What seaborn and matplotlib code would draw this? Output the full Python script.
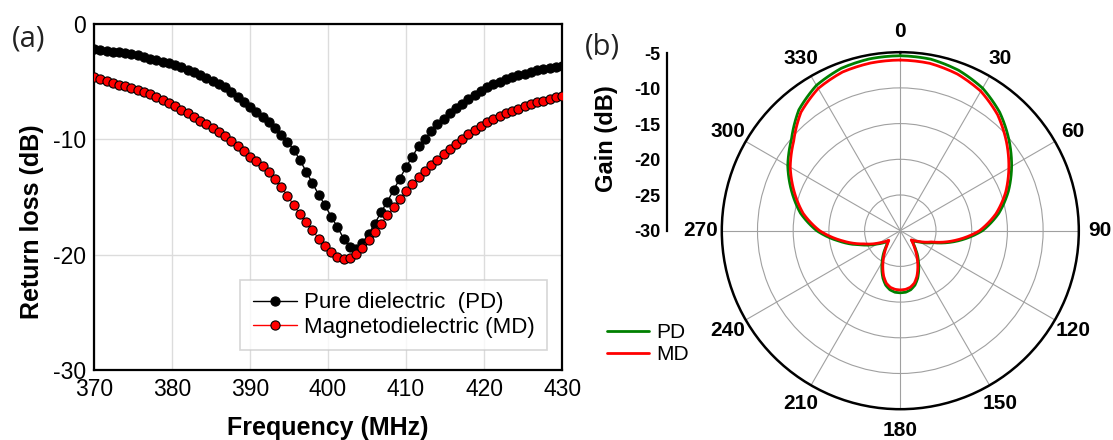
import numpy as np
import matplotlib
matplotlib.use("Agg")
import matplotlib.pyplot as plt
import seaborn as sns
from matplotlib.ticker import MultipleLocator, FixedLocator
from matplotlib.lines import Line2D

# ---------------- (a) return loss sweep, 370-430 MHz ----------------
freq_mhz = np.linspace(370, 430, 76)

return_loss_pd = [
    -2.2, -2.25, -2.3, -2.4, -2.45, -2.5, -2.6, -2.7, -2.85, -3.0,
    -3.1, -3.25, -3.4, -3.55, -3.75, -3.95, -4.15, -4.4, -4.65, -4.9,
    -5.2, -5.5, -5.9, -6.3, -6.75, -7.2, -7.6, -8.05, -8.5, -9.0,
    -9.6, -10.2, -10.9, -11.8, -12.8, -13.8, -14.8, -15.7, -16.7, -17.6,
    -18.6, -19.3, -19.5, -19.0, -18.2, -17.3, -16.3, -15.4, -14.4, -13.4,
    -12.4, -11.5, -10.6, -10.0, -9.3, -8.7, -8.2, -7.7, -7.25, -6.9,
    -6.5, -6.15, -5.85, -5.5, -5.2, -5.0, -4.8, -4.6, -4.45, -4.3,
    -4.15, -4.0, -3.9, -3.8, -3.7, -3.6,
]

return_loss_md = [
    -4.6, -4.75, -4.95, -5.1, -5.25, -5.4, -5.55, -5.7, -5.9, -6.1,
    -6.3, -6.55, -6.85, -7.15, -7.45, -7.75, -8.1, -8.4, -8.7, -9.0,
    -9.35, -9.7, -10.15, -10.6, -11.05, -11.5, -11.9, -12.35, -12.8, -13.4,
    -14.1, -14.9, -15.7, -16.5, -17.2, -17.9, -18.6, -19.25, -19.8, -20.2,
    -20.4, -20.25, -19.9, -19.4, -18.7, -18.0, -17.3, -16.6, -15.9, -15.2,
    -14.5, -13.9, -13.3, -12.7, -12.2, -11.75, -11.3, -10.85, -10.4, -9.95,
    -9.55, -9.2, -8.8, -8.5, -8.2, -7.95, -7.7, -7.5, -7.35, -7.15,
    -6.95, -6.8, -6.65, -6.5, -6.35, -6.2,
]

rl_series_labels = ["Pure dielectric  (PD)", "Magnetodielectric (MD)"]
freq_ticks = [370, 380, 390, 400, 410, 420, 430]
rl_ticks = [-30, -20, -10, 0]

# ---------------- (b) radiation pattern ----------------
pattern_angle_deg = [
    0, 10, 20, 30, 40, 50, 60, 70, 80, 90, 100, 110, 120, 125, 130, 135,
    140, 145, 150, 155, 160, 165, 170, 175, 180, 185, 190, 195, 200, 205,
    210, 215, 220, 225, 230, 235, 240, 250, 260, 270, 280, 290, 300, 310,
    320, 330, 340, 350,
]

gain_pd = [
    -5.5, -5.6, -6.1, -6.95, -8.35, -10.15, -12.0, -13.9, -16.0, -18.5,
    -21.8, -25.1, -26.8, -27.4, -27.9, -27.4, -26.7, -25.8, -24.9, -23.9,
    -22.9, -22.1, -21.6, -21.35, -21.3, -21.35, -21.6, -22.1, -22.9, -23.9,
    -24.9, -25.8, -26.7, -27.4, -27.8, -27.0, -26.3, -24.2, -21.4, -18.3,
    -15.8, -13.8, -11.8, -10.1, -7.9, -6.5, -5.8, -5.55,
]

gain_md = [
    -6.1, -6.2, -6.65, -7.45, -8.8, -10.6, -12.45, -14.3, -16.4, -18.9,
    -22.2, -25.4, -27.0, -27.5, -28.0, -27.5, -26.9, -26.1, -25.2, -24.2,
    -23.2, -22.4, -21.95, -21.75, -21.7, -21.75, -21.95, -22.4, -23.2, -24.2,
    -25.2, -26.1, -26.9, -27.5, -27.9, -27.3, -26.6, -24.6, -21.8, -18.7,
    -16.2, -14.2, -12.2, -10.5, -8.35, -7.0, -6.35, -6.15,
]

pattern_labels = ["PD", "MD"]
angle_ticks = [0, 30, 60, 90, 120, 150, 180, 210, 240, 270, 300, 330]
gain_ticks = [-30, -25, -20, -15, -10, -5]

# ---------------- styling ----------------
sns.set_style("white")
plt.rcParams["font.family"] = ["Liberation Sans", "DejaVu Sans"]
plt.rcParams["axes.edgecolor"] = "black"
plt.rcParams["axes.unicode_minus"] = False
plt.rcParams["text.color"] = "black"
plt.rcParams["axes.labelcolor"] = "black"
plt.rcParams["xtick.color"] = "black"
plt.rcParams["ytick.color"] = "black"

fig = plt.figure(figsize=(11.13, 4.4), dpi=100)

# ---- panel (a) ----
ax = fig.add_axes([0.0845, 0.159, 0.4205, 0.7864])
sns.lineplot(x=freq_mhz, y=return_loss_pd, ax=ax, color="black",
             marker="o", markersize=6.6, markerfacecolor="black",
             markeredgecolor="black", markeredgewidth=0.8, linewidth=1.0,
             label=rl_series_labels[0], zorder=3)
sns.lineplot(x=freq_mhz, y=return_loss_md, ax=ax, color="red",
             marker="o", markersize=6.6, markerfacecolor="red",
             markeredgecolor="black", markeredgewidth=0.8, linewidth=1.0,
             label=rl_series_labels[1], zorder=4)

ax.set_xlim(370, 430)
ax.set_ylim(-30, 0)
ax.set_xticks(freq_ticks)
ax.set_yticks(rl_ticks)
ax.xaxis.set_minor_locator(MultipleLocator(5))
ax.yaxis.set_minor_locator(MultipleLocator(5))
ax.tick_params(which="major", direction="in", length=6, width=1.2,
               labelsize=16.5, pad=6, colors="black")
ax.tick_params(which="minor", direction="in", length=3.5, width=1.0)
ax.grid(True, which="major", color="#dcdcdc", linewidth=1.0)
ax.set_axisbelow(True)
for sp in ax.spines.values():
    sp.set_linewidth(1.6)
    sp.set_color("black")

ax.set_xlabel("Frequency (MHz)", fontsize=18, fontweight="bold")
ax.set_ylabel("Return loss (dB)", fontsize=18, fontweight="bold")
ax.xaxis.set_label_coords(0.5, -0.132)
ax.yaxis.set_label_coords(-0.107, 0.43)

leg = ax.legend(loc="lower right", bbox_to_anchor=(0.968, 0.058),
                borderaxespad=0.0, fontsize=16, frameon=True,
                fancybox=False, edgecolor="#cccccc", borderpad=0.55,
                handlelength=2.0, handletextpad=0.32, labelspacing=0.15)
leg.get_frame().set_linewidth(1.2)

fig.text(0.026, 0.911, "(a)", fontsize=21, family=["Open Sans", "DejaVu Sans"],
         ha="center", va="center", color="#222222")

# ---- panel (b) ----
pax = fig.add_axes([0.6485, 0.0700, 0.3208, 0.8114], projection="polar")
theta = np.deg2rad(np.append(pattern_angle_deg, 360))
r_pd = np.append(gain_pd, gain_pd[0])
r_md = np.append(gain_md, gain_md[0])
sns.lineplot(x=theta, y=r_pd, ax=pax, color="#008000", linewidth=2.0,
             sort=False, zorder=3)
sns.lineplot(x=theta, y=r_md, ax=pax, color="#ff0000", linewidth=2.0,
             sort=False, zorder=4)
# follow the polar arcs between samples instead of straight chords
for ln in pax.lines:
    ln.get_path()._interpolation_steps = 12

pax.set_theta_zero_location("N")
pax.set_theta_direction(-1)
pax.set_ylim(-30, -5)
pax.set_yticks([-25, -20, -15, -10])
pax.set_yticklabels([])
pax.set_xticks(np.deg2rad(angle_ticks))
pax.set_xticklabels([str(a) for a in angle_ticks], fontsize=15,
                    fontweight="bold")
pax.xaxis.set_minor_locator(FixedLocator(np.deg2rad(np.arange(15, 360, 30))))
pax.tick_params(axis="x", which="major", direction="in", length=6,
                width=1.3, pad=8, colors="black")
pax.tick_params(axis="x", which="minor", direction="in", length=3.5,
                width=1.1)
pax.tick_params(axis="y", length=0)
pax.grid(True, color="#a0a0a0", linewidth=0.8)
pax.spines["polar"].set_linewidth(1.8)
pax.spines["polar"].set_color("black")
pax.set_xlabel("")
pax.set_ylabel("")
if pax.get_legend() is not None:
    pax.get_legend().remove()

# separate gain scale for the polar radius
gax = fig.add_axes([0.5993, 0.4757, 0.02, 0.4032])
gax.patch.set_visible(False)
gax.set_ylim(-30, -5)
gax.set_xticks([])
gax.set_yticks(gain_ticks)
gax.set_yticklabels([str(g) for g in gain_ticks], fontsize=13,
                    fontweight="bold")
gax.yaxis.set_minor_locator(MultipleLocator(2.5))
gax.tick_params(axis="y", which="major", direction="in", length=7,
                width=1.3, pad=5)
gax.tick_params(axis="y", which="minor", direction="in", length=4,
                width=1.1)
for s in ["top", "right", "bottom"]:
    gax.spines[s].set_visible(False)
gax.spines["left"].set_linewidth(1.6)
gax.spines["left"].set_color("black")
fig.text(607 / 1113, 1 - 139 / 440, "Gain (dB)", rotation=90, ha="center",
         va="center", fontsize=17, fontweight="bold")

handles = [Line2D([], [], color="#008000", lw=2.0),
           Line2D([], [], color="#ff0000", lw=2.0)]
fig.legend(handles, pattern_labels, loc="upper left",
           bbox_to_anchor=(0.536, 0.29), frameon=False, fontsize=15,
           handlelength=2.0, handletextpad=0.35, labelspacing=0.15,
           borderpad=0.0)

fig.text(0.541, 0.893, "(b)", fontsize=21, family=["Open Sans", "DejaVu Sans"],
         ha="center", va="center", color="#222222")

fig.savefig("out.png", dpi=100)
